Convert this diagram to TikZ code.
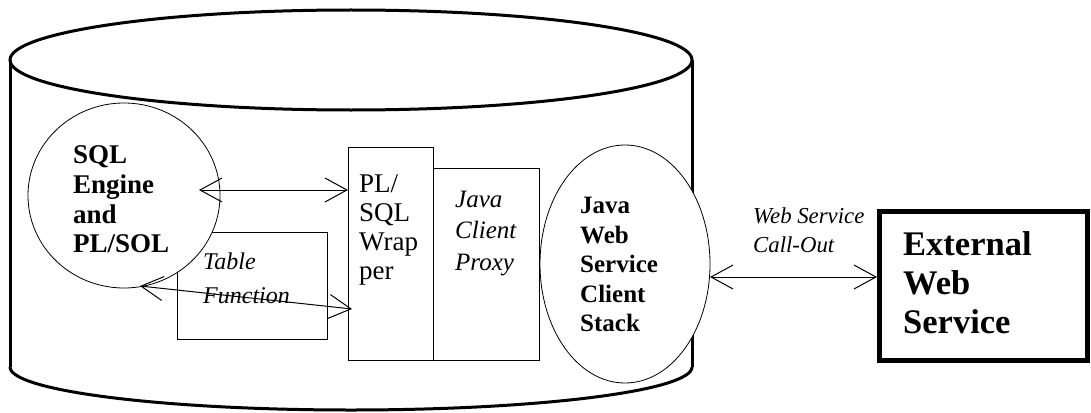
\documentclass[tikz,border=0pt]{standalone}
\usepackage{fontspec}
\setmainfont{Liberation Serif}
\usetikzlibrary{arrows.meta,shapes.geometric}
\begin{document}
\begin{tikzpicture}[x=1pt,y=-1pt,
  cyl/.style={line width=3pt},
  thinell/.style={draw, line width=0.8pt, fill=white, ellipse, inner sep=0pt},
  boxst/.style={draw, line width=1.2pt, rectangle, inner sep=0pt, anchor=north west},
  lbl/.style={anchor=north west, align=left, inner sep=0pt},
  conn/.style={line width=1pt, {Straight Barb[length=22pt,width=24pt]}-{Straight Barb[length=22pt,width=24pt]}},
]
\useasboundingbox (0,0) rectangle (1091,412);
% database cylinder
\draw[cyl] (10,60) -- (10,367);
\draw[cyl] (692,60) -- (692,367);
\begin{scope}
  \clip (0,367) rectangle (1091,420);
  \draw[cyl] (351,367) ellipse [x radius=341, y radius=43];
\end{scope}
\draw[cyl] (351,60) ellipse [x radius=341, y radius=50];
% boxes
\node[boxst, minimum width=150pt, minimum height=107pt] (tf) at (177,232) {};
\node[boxst, minimum width=85pt, minimum height=213pt] (wrap) at (348,147) {};
\node[boxst, minimum width=106pt, minimum height=192pt] (proxy) at (433,168) {};
\node[draw, line width=5pt, rectangle, inner sep=0pt, anchor=north west,
      minimum width=208pt, minimum height=149pt] (ext) at (877,209) {};
% ellipses
\node[thinell, minimum width=192pt, minimum height=185pt] (sql) at (124,195.5) {};
\node[thinell, minimum width=170pt, minimum height=238pt] (jws) at (625,264) {};
% texts
\node[lbl, font=\fontsize{27}{29.7}\selectfont\bfseries] (sqlt) at (73,145.7) {SQL\\Engine\\and\\PL/SOL};
\node[lbl, font=\fontsize{24}{34}\selectfont\itshape] (tft) at (203,252.6) {Table\\Function};
\node[lbl, font=\fontsize{27}{29}\selectfont] (wrapt) at (359,174.7) {PL/\\SQL\\Wrap\\per};
\node[lbl, font=\fontsize{25}{31.5}\selectfont\itshape] (proxyt) at (455,190.7) {Java\\Client\\Proxy};
\node[lbl, font=\fontsize{25}{29.5}\selectfont\bfseries] (jwst) at (580,197.1) {Java\\Web\\Service\\Client\\Stack};
\node[lbl, font=\fontsize{34.5}{39}\selectfont\bfseries] (extt) at (903,231.7) {External\\Web\\Service};
\node[lbl, font=\fontsize{22.8}{29}\selectfont\itshape] (wsl) at (753,207.4) {Web Service\\Call-Out};
% connectors
\coordinate (a1s) at (199,190);
\coordinate (a1e) at (wrap.west |- a1s);
\draw[conn] (a1s) -- (a1e);
\coordinate (a2s) at (140,286);
\coordinate (a2e) at (352,309);
\draw[conn] (a2s) -- (a2e);
\coordinate (a3s) at (710,277);
\coordinate (a3e) at (ext.west |- a3s);
\draw[conn] (a3s) -- (a3e);
\end{tikzpicture}
\end{document}
